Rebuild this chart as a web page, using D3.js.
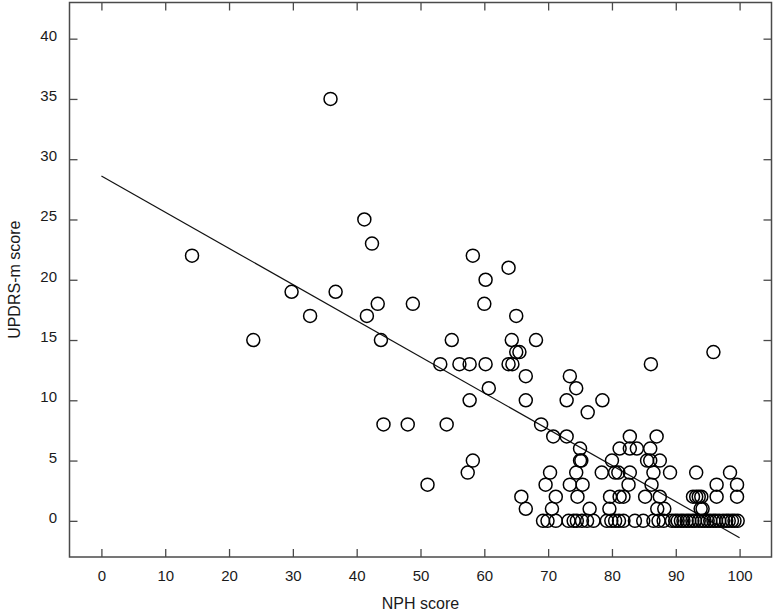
<!DOCTYPE html>
<html>
<head>
<meta charset="utf-8">
<script src="https://cdn.jsdelivr.net/npm/d3@7"></script>
<style>
    body { margin: 0; background: #fff; }
    text { font-family: "Liberation Sans", Arial, sans-serif; fill: #1a1a1a; }
</style>
</head>
<body>
<div id="chart"></div>
<script>
// Valeurs : score NPH (abscisse) et score UPDRS-m (ordonnée)
const nph = [
    14.2, 23.8, 29.8, 32.7, 35.9, 36.7, 41.2, 41.6, 42.4, 43.3, 43.8, 44.2, 48.0, 48.8, 51.1,
    53.1, 54.1, 54.9, 56.1, 57.4, 57.7, 57.7, 58.2, 58.2, 60.0, 60.2, 60.2, 60.7, 63.8, 63.8,
    64.3, 64.4, 65.0, 65.0, 65.5, 65.8, 66.5, 66.5, 66.5, 68.1, 68.9, 70.8, 70.3, 69.6, 71.2,
    70.6, 69.2, 69.9, 71.2,
    73.4, 74.4, 72.9, 78.5, 76.2, 72.9, 75.0, 75.0, 75.2, 74.4, 73.4, 75.4, 74.6, 76.5,
    73.2, 74.0, 74.5, 75.3, 76.1, 77.1,
    86.1, 95.9, 82.8, 87.0, 81.2, 82.8, 83.9, 86.0, 80.0, 85.5, 86.0, 87.5,
    78.4, 80.5, 81.0, 82.8, 86.5, 89.1, 93.2, 98.5, 82.6, 86.2, 96.4, 99.6,
    79.7, 81.2, 81.8, 85.2, 87.5, 92.7, 93.2, 93.6, 94.0, 96.4, 99.6,
    79.6, 87.1, 88.2, 93.9, 94.2,
    79.2, 79.9, 80.5, 81.1, 81.8, 83.6, 84.9, 86.5, 87.3, 88.1, 89.4, 89.9, 90.3, 90.8, 91.2,
    91.7, 92.1, 92.6, 93.0, 93.6, 94.1, 94.5, 95.0, 95.4, 95.9, 96.3, 96.8, 97.4, 97.9, 98.3,
    98.8, 99.2, 99.7
];
const updrs = [
    22, 15, 19, 17, 35, 19, 25, 17, 23, 18, 15, 8, 8, 18, 3,
    13, 8, 15, 13, 4, 13, 10, 5, 22, 18, 20, 13, 11, 21, 13,
    15, 13, 17, 14, 14, 2, 12, 10, 1, 15, 8, 7, 4, 3, 2,
    1, 0, 0, 0,
    12, 11, 10, 10, 9, 7, 6, 5, 5, 4, 3, 3, 2, 1,
    0, 0, 0, 0, 0, 0,
    13, 14, 7, 7, 6, 6, 6, 6, 5, 5, 5, 5,
    4, 4, 4, 4, 4, 4, 4, 4, 3, 3, 3, 3,
    2, 2, 2, 2, 2, 2, 2, 2, 2, 2, 2,
    1, 1, 1, 1, 1,
    0, 0, 0, 0, 0, 0, 0, 0, 0, 0, 0, 0, 0, 0, 0,
    0, 0, 0, 0, 0, 0, 0, 0, 0, 0, 0, 0, 0, 0, 0,
    0, 0, 0
];

// Droite de régression (extrémités)
const fitX = [0, 100];
const fitY = [28.6, -1.4];

const xTicks = [0, 10, 20, 30, 40, 50, 60, 70, 80, 90, 100];
const yTicks = [0, 5, 10, 15, 20, 25, 30, 35, 40];

const pageWidth = 774,
    pageHeight = 614,
    frame = {left: 69.5, right: 771.5, top: 2.5, bottom: 557},
    tickSize = 8,
    radius = 6.5,
    axisColor = "#4a4a4a";

const svg = d3.select("#chart").append("svg")
    .attr("width", pageWidth)
    .attr("height", pageHeight);

const x = d3.scaleLinear()
    .domain([-5, 105])
    .range([frame.left, frame.right]);

const y = d3.scaleLinear()
    .domain([-3, 43])
    .range([frame.bottom, frame.top]);

// Axes : graduations vers l'intérieur sur les 4 côtés
function styleAxis(g) {
    g.select(".domain").remove();
    g.selectAll(".tick line").attr("stroke", axisColor).attr("stroke-width", 1.3);
    g.selectAll(".tick text")
        .style("font-size", "15px")
        .attr("fill", "#1a1a1a");
}

svg.append("g")
    .attr("transform", "translate(0," + frame.bottom + ")")
    .call(d3.axisBottom(x).tickValues(xTicks).tickSize(-tickSize).tickPadding(13))
    .call(styleAxis);

svg.append("g")
    .attr("transform", "translate(0," + frame.top + ")")
    .call(d3.axisTop(x).tickValues(xTicks).tickSize(-tickSize).tickFormat(""))
    .call(styleAxis);

svg.append("g")
    .attr("transform", "translate(" + frame.left + ",0)")
    .call(d3.axisLeft(y).tickValues(yTicks).tickSize(-tickSize).tickPadding(12.5))
    .call(styleAxis)
    .selectAll(".tick text")
    .attr("dy", "0.1em");

svg.append("g")
    .attr("transform", "translate(" + frame.right + ",0)")
    .call(d3.axisRight(y).tickValues(yTicks).tickSize(-tickSize).tickFormat(""))
    .call(styleAxis);

// Cadre
svg.append("rect")
    .attr("x", frame.left)
    .attr("y", frame.top)
    .attr("width", frame.right - frame.left)
    .attr("height", frame.bottom - frame.top)
    .style("fill", "none")
    .style("stroke", axisColor)
    .style("stroke-width", 1.5);

// Droite de tendance
svg.append("line")
    .attr("x1", x(fitX[0]))
    .attr("y1", y(fitY[0]))
    .attr("x2", x(fitX[1]))
    .attr("y2", y(fitY[1]))
    .style("stroke", "#111")
    .style("stroke-width", 1.2);

// Points (cercles vides)
svg.append("g")
    .selectAll("circle")
    .data(d3.range(nph.length))
    .enter().append("circle")
    .attr("cx", i => x(nph[i]))
    .attr("cy", i => y(updrs[i]))
    .attr("r", radius)
    .style("fill", "none")
    .style("stroke", "#000")
    .style("stroke-width", 1.5);

// Titres des axes
svg.append("text")
    .attr("x", (x(0) + x(100)) / 2)
    .attr("y", 609)
    .attr("text-anchor", "middle")
    .style("font-size", "16px")
    .text("NPH score");

svg.append("text")
    .attr("transform", "translate(20," + y(20) + ") rotate(-90)")
    .attr("text-anchor", "middle")
    .style("font-size", "16px")
    .text("UPDRS-m score");
</script>
</body>
</html>
